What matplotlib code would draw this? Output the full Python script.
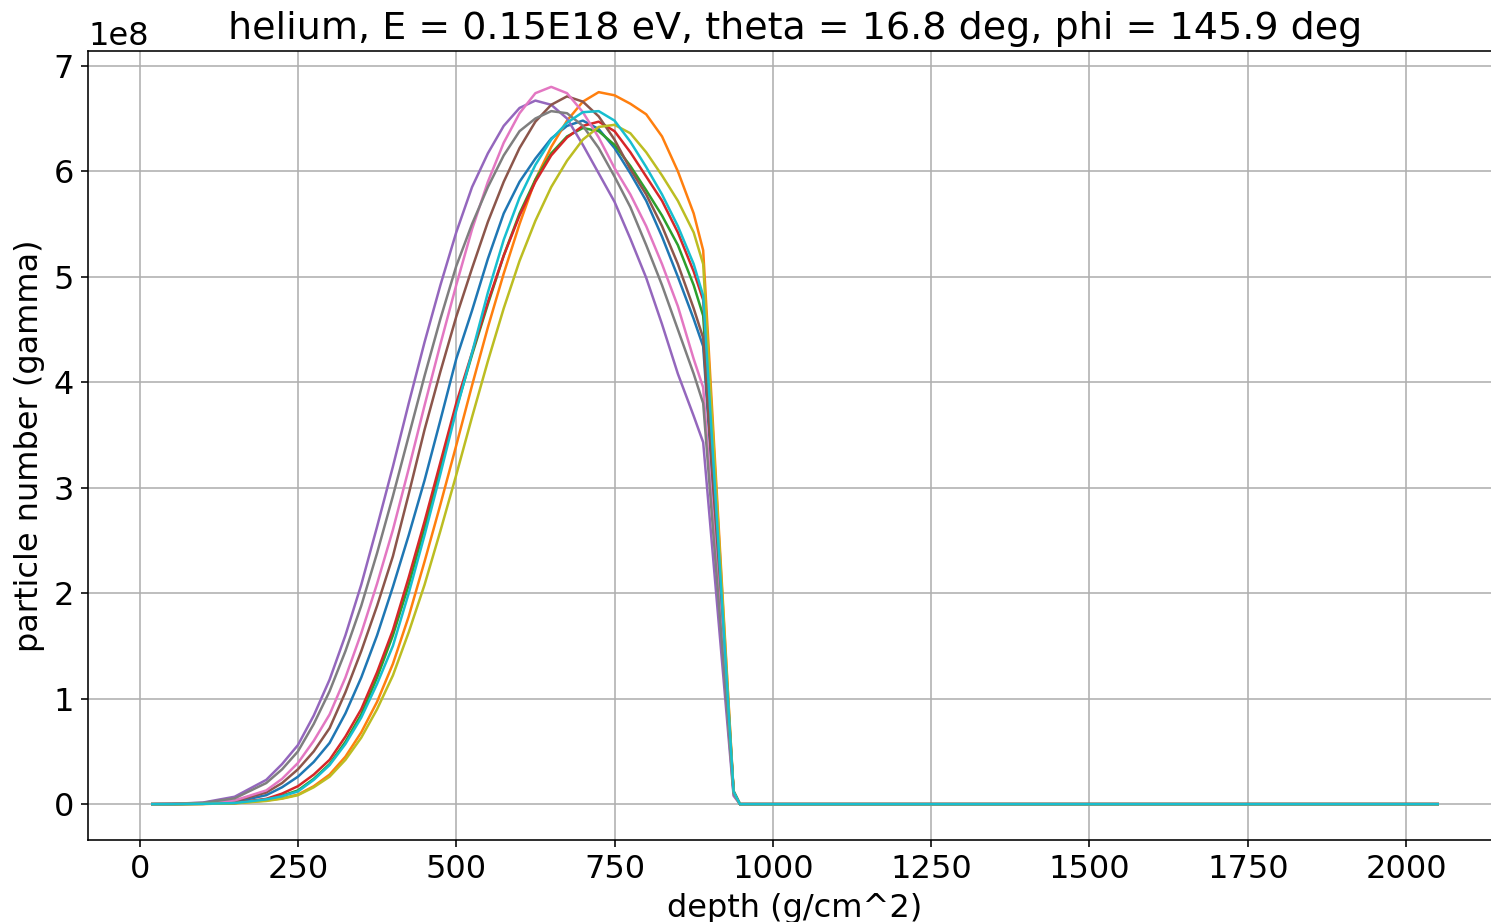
import matplotlib
matplotlib.use('Agg')
import matplotlib.pyplot as plt

# slant depth grid (g/cm^2), shared by all showers
depth = [20, 50, 100, 150,
         200, 225, 250, 275, 300, 325, 350, 375, 400, 425, 450, 475, 500,
         525, 550, 575, 600, 625, 650, 675, 700, 725, 750, 775, 800, 825, 850, 875,
         890, 938, 948, 2050]

# gamma particle number per shower, in units of 1e8
shower_0 = [0, 0.001, 0.005, 0.02,
            0.085, 0.16, 0.26, 0.4, 0.58, 0.86, 1.2, 1.6, 2.06, 2.55, 3.07, 3.64, 4.22,
            4.68, 5.17, 5.6, 5.9, 6.12, 6.31, 6.43, 6.48, 6.4, 6.22, 5.98, 5.72, 5.38, 5.0, 4.6,
            4.34, 0.12, 0, 0]
shower_1 = [0, 0, 0.002, 0.008,
            0.035, 0.055, 0.09, 0.17, 0.28, 0.45, 0.68, 0.97, 1.33, 1.78, 2.3, 2.84, 3.4,
            3.97, 4.52, 5.03, 5.5, 5.92, 6.23, 6.48, 6.66, 6.75, 6.72, 6.64, 6.54, 6.33, 6.0, 5.6,
            5.25, 0.12, 0, 0]
shower_2 = [0, 0, 0.003, 0.01,
            0.045, 0.08, 0.13, 0.24, 0.38, 0.59, 0.85, 1.2, 1.6, 2.08, 2.62, 3.18, 3.75,
            4.26, 4.74, 5.2, 5.6, 5.92, 6.17, 6.33, 6.41, 6.38, 6.25, 6.05, 5.82, 5.58, 5.3, 4.92,
            4.63, 0.12, 0, 0]
shower_3 = [0, 0, 0.003, 0.012,
            0.05, 0.1, 0.17, 0.28, 0.42, 0.64, 0.9, 1.25, 1.65, 2.15, 2.68, 3.24, 3.8,
            4.28, 4.76, 5.2, 5.58, 5.9, 6.15, 6.32, 6.43, 6.47, 6.38, 6.18, 5.95, 5.72, 5.42, 5.05,
            4.78, 0.12, 0, 0]
shower_4 = [0, 0.002, 0.015, 0.07,
            0.23, 0.38, 0.56, 0.84, 1.18, 1.6, 2.08, 2.63, 3.2, 3.8, 4.38, 4.92, 5.42,
            5.85, 6.17, 6.43, 6.6, 6.67, 6.63, 6.5, 6.25, 5.98, 5.71, 5.36, 4.99, 4.55, 4.08, 3.68,
            3.43, 0.08, 0, 0]
shower_5 = [0, 0.001, 0.007, 0.03,
            0.11, 0.2, 0.33, 0.5, 0.72, 1.06, 1.45, 1.88, 2.35, 2.94, 3.55, 4.1, 4.62,
            5.08, 5.52, 5.9, 6.22, 6.47, 6.63, 6.71, 6.66, 6.52, 6.3, 6.02, 5.78, 5.48, 5.12, 4.7,
            4.42, 0.12, 0, 0]
shower_6 = [0, 0.001, 0.008, 0.035,
            0.13, 0.24, 0.39, 0.6, 0.85, 1.2, 1.62, 2.09, 2.6, 3.18, 3.78, 4.36, 4.92,
            5.45, 5.9, 6.27, 6.55, 6.74, 6.8, 6.74, 6.56, 6.32, 6.03, 5.78, 5.48, 5.12, 4.72, 4.22,
            3.95, 0.1, 0, 0]
shower_7 = [0, 0.002, 0.012, 0.055,
            0.2, 0.33, 0.5, 0.76, 1.07, 1.45, 1.88, 2.38, 2.92, 3.49, 4.06, 4.6, 5.1,
            5.5, 5.85, 6.15, 6.38, 6.5, 6.57, 6.55, 6.43, 6.22, 5.95, 5.66, 5.3, 4.92, 4.5, 4.08,
            3.8, 0.1, 0, 0]
shower_8 = [0, 0, 0.002, 0.008,
            0.03, 0.052, 0.085, 0.16, 0.26, 0.42, 0.63, 0.9, 1.22, 1.63, 2.08, 2.59, 3.12,
            3.67, 4.2, 4.7, 5.15, 5.53, 5.85, 6.1, 6.3, 6.42, 6.44, 6.36, 6.18, 5.96, 5.72, 5.42,
            5.12, 0.12, 0, 0]
shower_9 = [0, 0, 0.003, 0.01,
            0.045, 0.075, 0.12, 0.23, 0.37, 0.57, 0.82, 1.14, 1.5, 2.0, 2.55, 3.13, 3.73,
            4.28, 4.85, 5.35, 5.75, 6.06, 6.3, 6.46, 6.56, 6.57, 6.48, 6.28, 6.04, 5.78, 5.48, 5.12,
            4.82, 0.12, 0, 0]

showers = [shower_0, shower_1, shower_2, shower_3, shower_4,
           shower_5, shower_6, shower_7, shower_8, shower_9]

dpi = 144
fig = plt.figure(figsize=(1491 / dpi, 922 / dpi), dpi=dpi)
ax = fig.add_axes([88 / 1491, 82 / 922, 1414 / 1491, 789 / 922])  # right spine falls off the canvas

for vals in showers:
    ax.plot(depth, [v * 1e8 for v in vals], linewidth=1.25)

ax.grid(True)
ax.tick_params(labelsize=16)
ax.yaxis.get_offset_text().set_fontsize(16)
ax.set_title('helium, E = 0.15E18 eV, theta = 16.8 deg, phi = 145.9 deg', fontsize=19)
ax.set_xlabel('depth (g/cm^2)', fontsize=16)
ax.set_ylabel('particle number (gamma)', fontsize=16)

plt.savefig('out.png', dpi=dpi)
